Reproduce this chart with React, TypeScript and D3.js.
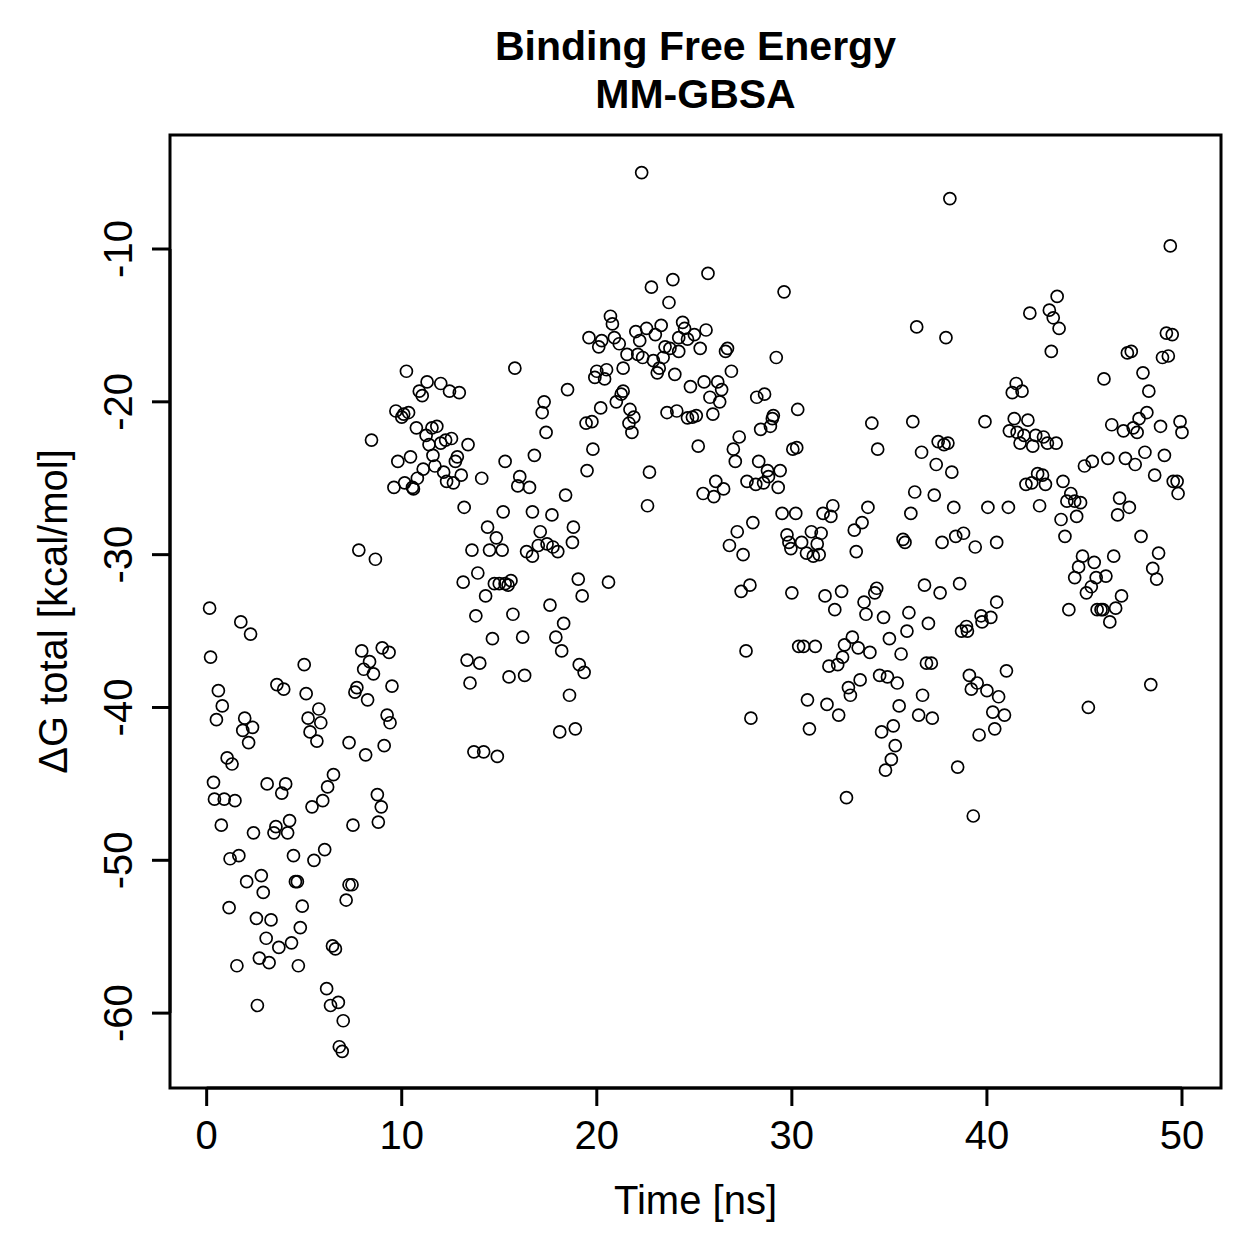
import React from 'react';
import * as d3 from 'd3';

// [time (ns), dG total (kcal/mol)] per snapshot, grouped by 10 ns window
const frames0to10: [number, number][] = [
  [0.15, -33.5], [0.2, -36.7], [0.35, -44.9], [0.4, -46.0], [0.5, -40.8], [0.6, -38.9],
  [0.75, -47.7], [0.8, -39.9], [0.9, -46.0], [1.05, -43.3], [1.15, -53.1], [1.2, -49.9],
  [1.3, -43.7], [1.45, -46.1], [1.55, -56.9], [1.65, -49.7], [1.75, -34.4], [1.85, -41.5],
  [1.95, -40.7], [2.05, -51.4], [2.15, -42.3], [2.25, -35.2], [2.35, -41.3], [2.4, -48.2],
  [2.55, -53.8], [2.6, -59.5], [2.7, -56.4], [2.8, -51.0], [2.9, -52.1], [3.05, -55.1],
  [3.1, -45.0], [3.2, -56.7], [3.3, -53.9], [3.45, -48.2], [3.55, -47.8], [3.6, -38.5],
  [3.7, -55.7], [3.85, -45.6], [3.95, -38.8], [4.05, -45.0], [4.15, -48.2], [4.25, -47.4],
  [4.35, -55.4], [4.45, -49.7], [4.55, -51.4], [4.65, -51.4], [4.7, -56.9], [4.8, -54.4],
  [4.9, -53.0], [5.0, -37.2], [5.1, -39.1], [5.2, -40.7], [5.3, -41.6], [5.4, -46.5],
  [5.5, -50.0], [5.65, -42.2], [5.75, -40.1], [5.85, -41.0], [5.95, -46.1], [6.05, -49.3],
  [6.15, -58.4], [6.2, -45.2], [6.35, -59.5], [6.45, -55.6], [6.5, -44.4], [6.6, -55.8],
  [6.75, -59.3], [6.8, -62.2], [6.95, -62.5], [7.0, -60.5], [7.15, -52.6], [7.3, -51.6],
  [7.3, -42.3], [7.45, -51.6], [7.5, -47.7], [7.6, -39.0], [7.7, -38.7], [7.8, -29.7],
  [7.95, -36.3], [8.05, -37.5], [8.15, -43.1], [8.25, -39.5], [8.35, -37.0], [8.45, -22.5],
  [8.55, -37.8], [8.65, -30.3], [8.75, -45.7], [8.8, -47.5], [8.95, -46.5], [9.0, -36.1],
  [9.1, -42.5], [9.25, -40.5], [9.35, -36.4], [9.4, -41.0], [9.5, -38.6],
];

const frames10to20: [number, number][] = [
  [9.6, -25.6], [9.7, -20.6], [9.8, -23.9], [10.0, -21.0], [10.1, -20.8], [10.15, -25.3],
  [10.24, -18.0], [10.35, -20.7], [10.45, -23.6], [10.55, -25.6], [10.6, -25.7], [10.75, -21.7],
  [10.8, -25.0], [10.9, -19.3], [11.05, -19.6], [11.1, -24.4], [11.25, -22.2], [11.3, -18.7],
  [11.4, -22.8], [11.55, -21.7], [11.6, -23.5], [11.7, -24.2], [11.8, -21.6], [12.0, -18.8],
  [12.0, -22.7], [12.15, -24.6], [12.25, -22.5], [12.3, -25.2], [12.45, -19.3], [12.55, -22.4],
  [12.65, -25.3], [12.75, -23.9], [12.85, -23.6], [12.95, -19.4], [13.05, -24.8], [13.15, -31.8],
  [13.2, -26.9], [13.35, -36.9], [13.4, -22.8], [13.5, -38.4], [13.6, -29.7], [13.7, -42.9],
  [13.8, -34.0], [13.9, -31.2], [14.0, -37.1], [14.1, -25.0], [14.2, -42.9], [14.3, -32.7],
  [14.4, -28.2], [14.5, -29.7], [14.65, -35.5], [14.75, -31.9], [14.85, -28.9], [14.9, -43.2],
  [15.0, -31.9], [15.15, -29.7], [15.2, -27.2], [15.3, -23.9], [15.3, -31.9], [15.45, -32.0],
  [15.5, -38.0], [15.6, -31.7], [15.7, -33.9], [15.8, -17.8], [15.95, -25.5], [16.05, -24.9],
  [16.2, -35.4], [16.3, -37.9], [16.4, -29.8], [16.55, -25.6], [16.7, -27.2], [16.7, -30.1],
  [16.8, -23.5], [17.0, -29.4], [17.1, -28.5], [17.2, -20.7], [17.3, -20.0], [17.4, -22.0],
  [17.45, -29.3], [17.6, -33.3], [17.7, -27.4], [17.75, -29.5], [17.9, -35.4], [18.0, -29.8],
  [18.1, -41.6], [18.2, -36.3], [18.3, -34.5], [18.4, -26.1], [18.5, -19.2], [18.6, -39.2],
  [18.75, -29.2], [18.8, -28.2], [18.9, -41.4], [19.05, -31.6], [19.1, -37.2], [19.25, -32.7],
  [19.35, -37.7], [19.45, -21.4], [19.5, -24.5], [19.6, -15.8], [19.75, -21.3], [19.8, -23.1],
];

const frames20to30: [number, number][] = [
  [19.9, -18.4], [20.0, -18.0], [20.1, -16.4], [20.2, -20.4], [20.25, -16.0], [20.4, -18.5],
  [20.5, -17.9], [20.6, -31.8], [20.7, -14.4], [20.8, -14.9], [20.9, -15.8], [21.0, -20.0],
  [21.15, -16.2], [21.25, -19.5], [21.35, -19.3], [21.35, -17.8], [21.55, -16.9], [21.65, -21.4],
  [21.7, -20.5], [21.8, -22.0], [21.9, -21.0], [22.0, -15.4], [22.1, -16.9], [22.2, -16.0],
  [22.3, -5.0], [22.35, -17.1], [22.55, -15.2], [22.6, -26.8], [22.7, -24.6], [22.8, -12.5],
  [22.9, -17.3], [23.0, -15.6], [23.1, -18.1], [23.2, -17.8], [23.3, -15.0], [23.4, -17.1],
  [23.5, -16.4], [23.6, -20.7], [23.7, -13.5], [23.75, -16.5], [23.9, -12.0], [24.0, -18.2],
  [24.1, -20.6], [24.2, -15.8], [24.2, -16.7], [24.4, -14.8], [24.5, -15.2], [24.65, -15.9],
  [24.65, -21.05], [24.8, -19.0], [24.9, -21.0], [25.0, -15.6], [25.1, -20.9], [25.2, -22.9],
  [25.3, -16.5], [25.45, -26.0], [25.5, -18.7], [25.6, -15.3], [25.7, -11.6], [25.8, -19.7],
  [25.95, -20.8], [26.0, -26.2], [26.1, -25.2], [26.2, -18.7], [26.3, -20.0], [26.4, -19.2],
  [26.5, -25.7], [26.6, -16.7], [26.7, -16.5], [26.8, -29.4], [26.9, -18.0], [27.0, -23.1],
  [27.1, -23.9], [27.2, -28.5], [27.3, -22.3], [27.4, -32.4], [27.5, -30.0], [27.65, -36.3],
  [27.7, -25.2], [27.85, -32.0], [27.9, -40.7], [28.0, -27.9], [28.15, -25.4], [28.2, -19.7],
  [28.3, -23.9], [28.4, -21.8], [28.55, -25.3], [28.6, -19.5], [28.75, -24.5], [28.8, -24.9],
  [28.9, -21.6], [29.0, -21.1], [29.05, -20.9], [29.2, -17.1], [29.3, -25.6], [29.4, -24.5],
  [29.5, -27.3], [29.6, -12.8], [29.75, -28.7], [29.85, -29.2], [29.95, -29.6],
];

const frames30to40: [number, number][] = [
  [30.0, -32.5], [30.05, -23.1], [30.25, -23.0], [30.2, -27.3], [30.3, -20.5], [30.35, -36.0],
  [30.5, -29.2], [30.6, -36.0], [30.75, -29.9], [30.8, -39.5], [30.9, -41.4], [31.0, -28.5],
  [31.1, -30.1], [31.2, -36.0], [31.3, -29.3], [31.4, -30.0], [31.5, -28.6], [31.6, -27.3],
  [31.7, -32.7], [31.8, -39.8], [31.9, -37.3], [32.0, -27.5], [32.1, -26.8], [32.2, -33.6],
  [32.35, -37.2], [32.4, -40.5], [32.55, -32.4], [32.6, -36.7], [32.7, -35.9], [32.8, -45.9],
  [32.9, -38.7], [33.0, -39.2], [33.1, -35.4], [33.2, -28.4], [33.3, -29.8], [33.4, -36.1],
  [33.5, -38.2], [33.6, -27.9], [33.7, -33.1], [33.8, -33.9], [33.9, -26.9], [34.0, -36.4],
  [34.1, -21.4], [34.25, -32.5], [34.35, -32.2], [34.4, -23.1], [34.5, -37.9], [34.6, -41.6],
  [34.7, -34.1], [34.8, -44.1], [34.9, -38.0], [35.0, -35.5], [35.1, -43.4], [35.2, -41.2],
  [35.3, -42.5], [35.4, -38.4], [35.5, -39.9], [35.6, -36.5], [35.7, -29.0], [35.8, -29.2],
  [35.9, -35.0], [36.0, -33.8], [36.1, -27.3], [36.2, -21.3], [36.3, -25.9], [36.4, -15.1],
  [36.5, -40.5], [36.65, -23.3], [36.7, -39.2], [36.8, -32.0], [36.9, -37.1], [37.0, -34.5],
  [37.15, -37.1], [37.2, -40.7], [37.3, -26.1], [37.4, -24.1], [37.5, -22.6], [37.6, -32.5],
  [37.7, -29.2], [37.8, -22.8], [37.9, -15.8], [38.0, -22.7], [38.1, -6.7], [38.2, -24.6],
  [38.3, -26.9], [38.4, -28.8], [38.5, -43.9], [38.6, -31.9], [38.7, -35.0], [38.8, -28.6],
  [38.95, -34.7], [39.0, -35.0], [39.1, -37.9], [39.2, -38.8], [39.3, -47.1], [39.4, -29.5],
  [39.5, -38.4], [39.6, -41.8], [39.7, -34.0], [39.75, -34.4], [39.9, -21.3], [40.0, -38.9],
];

const frames40to50: [number, number][] = [
  [40.05, -26.9], [40.2, -34.1], [40.3, -40.3], [40.4, -41.4], [40.5, -33.1], [40.5, -29.2],
  [40.6, -39.3], [40.9, -40.5], [41.0, -37.6], [41.1, -26.9], [41.15, -21.9], [41.3, -19.4],
  [41.4, -21.1], [41.5, -18.8], [41.55, -22.0], [41.7, -22.7], [41.8, -19.3], [41.9, -22.2],
  [42.0, -25.4], [42.1, -21.2], [42.2, -14.2], [42.3, -25.3], [42.35, -22.9], [42.5, -22.2],
  [42.6, -24.7], [42.7, -26.8], [42.85, -24.8], [42.9, -22.3], [43.0, -25.4], [43.1, -22.7],
  [43.2, -14.0], [43.3, -16.7], [43.4, -14.5], [43.55, -22.7], [43.6, -13.1], [43.7, -15.2],
  [43.8, -27.7], [43.9, -25.2], [44.0, -28.8], [44.1, -26.5], [44.2, -33.6], [44.3, -26.0],
  [44.5, -26.5], [44.5, -31.5], [44.6, -27.5], [44.7, -30.8], [44.8, -26.6], [44.9, -30.1],
  [45.0, -24.2], [45.1, -32.5], [45.2, -40.0], [45.35, -32.1], [45.4, -23.9], [45.5, -30.5],
  [45.6, -31.5], [45.65, -33.6], [45.85, -33.6], [45.95, -33.6], [46.0, -18.5], [46.1, -31.4],
  [46.2, -23.7], [46.3, -34.4], [46.4, -21.5], [46.5, -30.1], [46.6, -33.5], [46.7, -27.4],
  [46.8, -26.3], [46.9, -32.7], [47.0, -21.9], [47.1, -23.7], [47.2, -16.8], [47.3, -26.9],
  [47.4, -16.7], [47.5, -21.7], [47.6, -24.1], [47.7, -22.0], [47.8, -21.1], [47.9, -28.8],
  [48.0, -18.1], [48.1, -23.3], [48.2, -20.7], [48.3, -19.3], [48.4, -38.5], [48.5, -30.9],
  [48.6, -24.8], [48.7, -31.6], [48.8, -29.9], [48.9, -21.6], [49.0, -17.1], [49.1, -23.5],
  [49.2, -15.5], [49.3, -17.0], [49.4, -9.8], [49.5, -15.6], [49.55, -25.2], [49.75, -25.2],
  [49.8, -26.0], [49.9, -21.3], [50.0, -22.0],
];

const xTicks = [0, 10, 20, 30, 40, 50];
const yTicks = [-60, -50, -40, -30, -20, -10];

const FONT = '"Liberation Sans", Arial, Helvetica, sans-serif';

const App: React.FC = () => {
  const width = 1259;
  const height = 1259;
  const box = { left: 170, right: 1221, top: 135, bottom: 1088 };

  const points = [
    ...frames0to10,
    ...frames10to20,
    ...frames20to30,
    ...frames30to40,
    ...frames40to50,
  ];

  const x = d3.scaleLinear().domain([-1.88, 52.0]).range([box.left, box.right]);
  const y = d3.scaleLinear().domain([-64.9, -2.54]).range([box.bottom, box.top]);

  const tickLen = 18;
  const lw = 3;
  const cx = (box.left + box.right) / 2;
  const cy = (box.top + box.bottom) / 2;

  return (
    <svg
      width={width}
      height={height}
      style={{ position: 'absolute', left: 0, top: 0, background: '#fff' }}
      fontFamily={FONT}
    >
      <rect x={0} y={0} width={width} height={height} fill="#fff" />

      {/* points */}
      <g fill="none" stroke="#000" strokeWidth={1.7}>
        {points.map((d, i) => (
          <circle key={i} cx={x(d[0])} cy={y(d[1])} r={6} />
        ))}
      </g>

      {/* plot frame */}
      <rect
        x={box.left}
        y={box.top}
        width={box.right - box.left}
        height={box.bottom - box.top}
        fill="none"
        stroke="#000"
        strokeWidth={lw}
      />

      {/* x axis */}
      <g stroke="#000" strokeWidth={lw}>
        <line x1={x(xTicks[0])} x2={x(xTicks[xTicks.length - 1])} y1={box.bottom} y2={box.bottom} />
        {xTicks.map(t => (
          <line key={t} x1={x(t)} x2={x(t)} y1={box.bottom} y2={box.bottom + tickLen} />
        ))}
      </g>
      {xTicks.map(t => (
        <text key={t} x={x(t)} y={1149} textAnchor="middle" fontSize={40}>
          {t}
        </text>
      ))}

      {/* y axis */}
      <g stroke="#000" strokeWidth={lw}>
        <line x1={box.left} x2={box.left} y1={y(yTicks[0])} y2={y(yTicks[yTicks.length - 1])} />
        {yTicks.map(t => (
          <line key={t} x1={box.left - tickLen} x2={box.left} y1={y(t)} y2={y(t)} />
        ))}
      </g>
      {yTicks.map(t => (
        <text
          key={t}
          transform={`translate(132,${y(t)}) rotate(-90)`}
          textAnchor="middle"
          fontSize={40}
        >
          {t}
        </text>
      ))}

      {/* axis titles */}
      <text x={cx} y={1214} textAnchor="middle" fontSize={40}>
        Time [ns]
      </text>
      <text transform={`translate(67,${cy}) rotate(-90)`} textAnchor="middle" fontSize={40}>
        ΔG total [kcal/mol]
      </text>

      {/* title */}
      <text x={cx} y={60} textAnchor="middle" fontSize={41} fontWeight="bold">
        Binding Free Energy
      </text>
      <text x={cx} y={108} textAnchor="middle" fontSize={41} fontWeight="bold">
        MM-GBSA
      </text>
    </svg>
  );
};

export default App;
